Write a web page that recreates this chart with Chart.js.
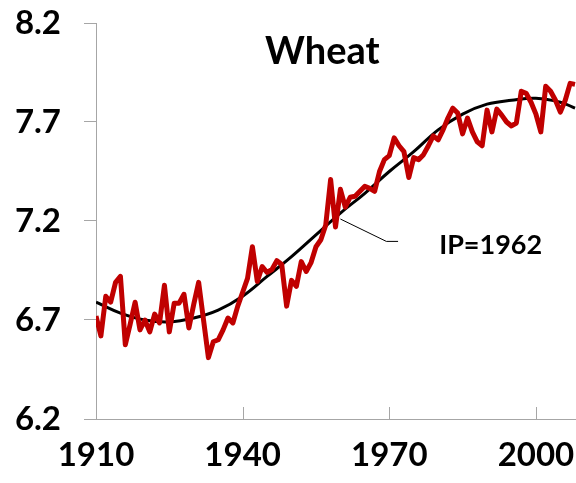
<!DOCTYPE html>
<html lang="en">
<head>
    <meta charset="UTF-8">
    <title>Wheat</title>
    <script src="https://cdn.jsdelivr.net/npm/chart.js"></script>
    <style>
        html, body {
            margin: 0;
            padding: 0;
            background: #fff;
        }
        .wrap {
            width: 576px;
            height: 483px;
            position: relative;
        }
    </style>
</head>
<body>
    <div class="wrap">
        <canvas id="wheatChart"></canvas>
    </div>

    <script>
        // yearly values (red line)
        const years = [
            1910, 1911, 1912, 1913, 1914, 1915, 1916, 1917, 1918, 1919,
            1920, 1921, 1922, 1923, 1924, 1925, 1926, 1927, 1928, 1929,
            1930, 1931, 1932, 1933, 1934, 1935, 1936, 1937, 1938, 1939,
            1940, 1941, 1942, 1943, 1944, 1945, 1946, 1947, 1948, 1949,
            1950, 1951, 1952, 1953, 1954, 1955, 1956, 1957, 1958, 1959,
            1960, 1961, 1962, 1963, 1964, 1965, 1966, 1967, 1968, 1969,
            1970, 1971, 1972, 1973, 1974, 1975, 1976, 1977, 1978, 1979,
            1980, 1981, 1982, 1983, 1984, 1985, 1986, 1987, 1988, 1989,
            1990, 1991, 1992, 1993, 1994, 1995, 1996, 1997, 1998, 1999,
            2000, 2001, 2002, 2003, 2004, 2005, 2006, 2007, 2008
        ];
        const observed = [
            6.72, 6.62, 6.82, 6.79, 6.89, 6.92, 6.575, 6.68, 6.79, 6.65,
            6.70, 6.64, 6.73, 6.685, 6.875, 6.64, 6.785, 6.785, 6.83, 6.66,
            6.78, 6.89, 6.70, 6.51, 6.59, 6.60, 6.65, 6.71, 6.685, 6.77,
            6.84, 6.91, 7.07, 6.895, 6.97, 6.94, 6.955, 7.00, 6.98, 6.77,
            6.90, 6.87, 6.995, 6.945, 6.99, 7.07, 7.105, 7.18, 7.41, 7.17,
            7.36, 7.27, 7.32, 7.325, 7.35, 7.375, 7.365, 7.35, 7.45, 7.51,
            7.53, 7.62, 7.58, 7.55, 7.42, 7.52, 7.51, 7.535, 7.58, 7.63,
            7.61, 7.66, 7.72, 7.77, 7.745, 7.64, 7.72, 7.65, 7.60, 7.58,
            7.76, 7.65, 7.765, 7.735, 7.70, 7.68, 7.695, 7.855, 7.845, 7.80,
            7.74, 7.65, 7.88, 7.855, 7.81, 7.75, 7.81, 7.895, 7.89
        ];

        // fitted curve (black), read every 5 years
        const fitYears = [1910, 1915, 1920, 1925, 1930, 1935, 1940, 1945, 1950, 1955,
                          1960, 1965, 1970, 1975, 1980, 1985, 1990, 1995, 2000, 2005, 2008];
        const fitted = [6.79, 6.735, 6.70, 6.69, 6.71, 6.75, 6.82, 6.92, 7.02, 7.13,
                        7.24, 7.34, 7.45, 7.55, 7.66, 7.74, 7.79, 7.81, 7.82, 7.80, 7.77];

        const xTicks = [1910, 1940, 1970, 2000];
        const yTicks = [6.2, 6.7, 7.2, 7.7, 8.2];

        const titleText = 'Wheat';
        const ipLabel = 'IP=1962';

        const FONT = 'Lato, "DejaVu Sans", sans-serif';
        const AXIS_GRAY = '#a6a6a6';

        const extras = {
            id: 'extras',
            afterDraw(chart) {
                const ctx = chart.ctx;
                const x = chart.scales.x, y = chart.scales.y;
                const area = chart.chartArea;
                ctx.save();

                // x tick marks point up into the plot
                ctx.strokeStyle = AXIS_GRAY;
                ctx.lineWidth = 1;
                xTicks.forEach(t => {
                    const px = Math.round(x.getPixelForValue(t)) + 0.5;
                    ctx.beginPath();
                    ctx.moveTo(px, area.bottom);
                    ctx.lineTo(px, area.bottom - 12);
                    ctx.stroke();
                });

                // title
                ctx.fillStyle = '#000';
                ctx.font = 'bold 38px ' + FONT;
                ctx.textAlign = 'center';
                ctx.textBaseline = 'alphabetic';
                ctx.fillText(titleText, x.getPixelForValue(1956.3), 64);

                // leader line from the curve to the IP label
                ctx.strokeStyle = '#000';
                ctx.lineWidth = 1;
                ctx.beginPath();
                ctx.moveTo(x.getPixelForValue(1960), y.getPixelForValue(7.21));
                ctx.lineTo(x.getPixelForValue(1969.4), y.getPixelForValue(7.097));
                ctx.lineTo(x.getPixelForValue(1971.8), y.getPixelForValue(7.097));
                ctx.stroke();

                ctx.font = 'bold 27px ' + FONT;
                ctx.textAlign = 'left';
                ctx.fillText(ipLabel, x.getPixelForValue(1980.2), y.getPixelForValue(7.2) + 33);
                ctx.restore();
            }
        };

        new Chart(document.getElementById('wheatChart'), {
            type: 'line',
            data: {
                datasets: [
                    {
                        label: 'Wheat',
                        data: years.map((yr, i) => ({ x: yr, y: observed[i] })),
                        borderColor: '#c00000',
                        borderWidth: 5,
                        pointRadius: 0,
                        tension: 0,
                        borderJoinStyle: 'round'
                    },
                    {
                        label: 'Fit',
                        data: fitYears.map((yr, i) => ({ x: yr, y: fitted[i] })),
                        borderColor: '#000',
                        borderWidth: 3,
                        pointRadius: 0,
                        tension: 0.4
                    }
                ]
            },
            options: {
                responsive: true,
                maintainAspectRatio: false,
                animation: false,
                layout: { padding: { top: 23, right: 0, left: 0, bottom: 0 } },
                plugins: {
                    legend: { display: false },
                    tooltip: { enabled: false }
                },
                scales: {
                    x: {
                        type: 'linear',
                        min: 1910,
                        max: 2008.2,
                        afterBuildTicks: s => { s.ticks = xTicks.map(v => ({ value: v })); },
                        afterFit: s => {
                            s.height = 64;
                            s.paddingLeft = 0;
                            s.paddingRight = 0;
                        },
                        grid: { display: false, drawTicks: false },
                        border: { display: true, color: AXIS_GRAY, width: 1 },
                        ticks: {
                            color: '#000',
                            padding: 17,
                            maxRotation: 0,
                            font: { family: FONT, size: 33, weight: 'bold' },
                            callback: v => String(v)
                        }
                    },
                    y: {
                        min: 6.2,
                        max: 8.2,
                        afterBuildTicks: s => { s.ticks = yTicks.map(v => ({ value: v })); },
                        afterFit: s => {
                            s.width = 96;
                            s.paddingTop = 0;
                            s.paddingBottom = 0;
                        },
                        grid: {
                            drawOnChartArea: false,
                            drawTicks: true,
                            tickLength: 12,
                            color: AXIS_GRAY
                        },
                        border: { display: true, color: AXIS_GRAY, width: 1 },
                        ticks: {
                            color: '#000',
                            padding: 23,
                            font: { family: FONT, size: 33, weight: 'bold' },
                            callback: v => v.toFixed(1)
                        }
                    }
                }
            },
            plugins: [extras]
        });
    </script>
</body>
</html>
